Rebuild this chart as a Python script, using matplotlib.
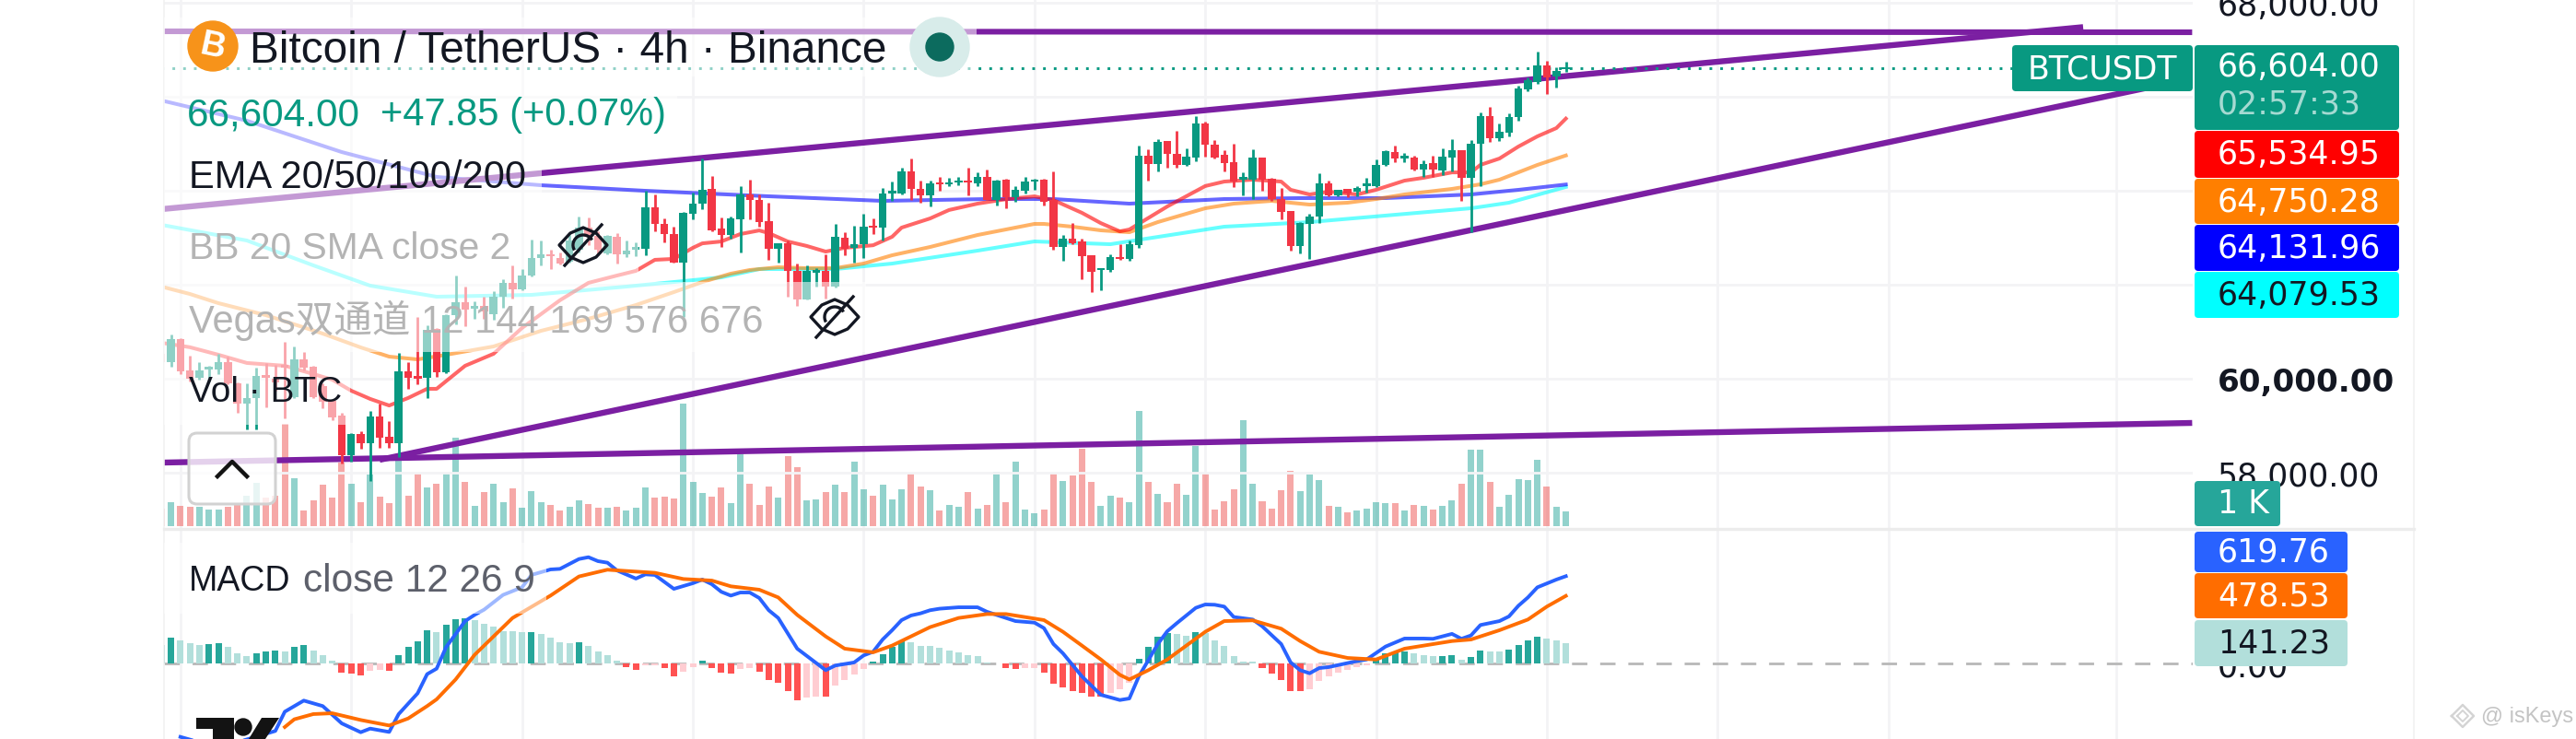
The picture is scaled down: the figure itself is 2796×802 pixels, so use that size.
import numpy as np
from matplotlib import pyplot as plt
from matplotlib.patches import Circle, FancyBboxPatch, Polygon, Rectangle, Arc

# candles, one per 4h bar
opens = [60530, 60350, 60840, 60180, 60020, 60200, 60200, 60350, 59900, 59470,
         59590, 60080, 60000, 60300, 59610, 60410, 60260, 59840, 59530, 59220,
         58370, 58820, 58630, 59200, 58760, 58630, 60160, 60060, 60020, 61060,
         60140, 61350, 61630, 61490, 61550, 61370, 61750, 62040, 61900, 62200,
         62570, 62650, 62570, 62490, 62750, 63210, 63040, 62670, 63020, 62650,
         62750, 62770, 63650, 63290, 63080, 62470, 63510, 63720, 64040, 63200,
         63060, 63390, 63920, 63800, 63350, 62770, 62880, 62290, 61690, 62250,
         62290, 61960, 63000, 62780, 62860, 63250, 63210, 63940, 63940, 64410,
         64040, 63900, 64170, 64140, 64170, 64210, 64160, 64290, 63800, 64230,
         63860, 64000, 64190, 64230, 63800, 62800, 62980, 62920, 62630, 62310,
         62310, 62590, 62550, 62840, 64740, 64570, 65060, 64780, 64550, 64700,
         65430, 64980, 64760, 64610, 64230, 64230, 64700, 64250, 63820, 63570,
         62820, 63290, 63450, 64160, 63900, 64040, 63980, 64100, 64100, 64550,
         64820, 64680, 64700, 64450, 64590, 64430, 64700, 64860, 64270, 65000,
         65590, 65120, 65230, 65570, 66160, 66310, 66670, 66430, 66590]
highs = [60530, 60940, 60860, 60490, 60350, 60280, 60530, 60470, 59920, 59900,
         60240, 60330, 60300, 60780, 60690, 60570, 60280, 59900, 59550, 59270,
         58840, 58880, 59310, 59470, 59100, 60550, 60350, 61310, 61140, 61080,
         61370, 62200, 61960, 61650, 61750, 61860, 62120, 62410, 62330, 62960,
         62940, 62750, 62690, 63060, 63450, 63430, 63140, 63060, 63100, 62940,
         62900, 64000, 63920, 63410, 63230, 63550, 63960, 64680, 64310, 63430,
         63450, 64100, 64230, 63920, 63740, 62880, 62940, 62450, 62410, 62350,
         62650, 63290, 63120, 63250, 63510, 63410, 64060, 64190, 64490, 64680,
         64210, 64210, 64290, 64270, 64290, 64490, 64390, 64450, 64230, 64250,
         64100, 64290, 64250, 64250, 64410, 63060, 63310, 62980, 62630, 62350,
         62650, 62860, 62940, 64960, 64880, 65100, 65060, 65270, 64900, 65590,
         65470, 65080, 64860, 65000, 64390, 64880, 64700, 64270, 64060, 63570,
         63330, 63510, 64370, 64210, 64020, 64040, 64100, 64270, 64660, 64860,
         64960, 64800, 64740, 64640, 64740, 64900, 65100, 64860, 65080, 65670,
         65780, 65430, 65650, 66230, 66410, 66960, 66760, 66630, 66740]
lows = [60350, 60260, 60100, 59940, 59980, 59940, 60100, 59880, 59270, 58920,
        58920, 59390, 59740, 59155, 59590, 60180, 59590, 59370, 59120, 58195,
        58235, 58510, 57820, 58530, 58530, 58330, 59780, 59880, 59590, 60040,
        60120, 61160, 61120, 61270, 61270, 61250, 61510, 61710, 61880, 62180,
        62410, 62330, 62430, 62470, 62690, 62840, 62630, 62650, 62450, 62590,
        62610, 62630, 63140, 62900, 62470, 61310, 63390, 63610, 63140, 62800,
        62980, 62690, 63390, 63230, 62530, 62470, 61750, 61550, 61680, 61960,
        61710, 61950, 62630, 62470, 62570, 63080, 62940, 63780, 63920, 63800,
        63740, 63670, 64000, 64100, 64120, 63900, 64100, 63800, 63690, 63630,
        63760, 63940, 64020, 63690, 62750, 62510, 62860, 62120, 61840, 61880,
        62270, 62530, 62510, 62780, 64210, 64410, 64490, 64490, 64530, 64620,
        64720, 64680, 64410, 64080, 63900, 63820, 64000, 63780, 63390, 62730,
        62670, 62550, 63310, 63880, 63880, 63860, 63880, 63960, 64080, 64530,
        64610, 64610, 64430, 64290, 64290, 64330, 64410, 63780, 63120, 64100,
        65040, 65060, 65160, 65490, 66120, 66270, 66060, 66200, 66530]
closes = [60350, 60840, 60160, 60000, 60180, 60260, 60350, 59900, 59470, 59590,
          60060, 60020, 59920, 60240, 60410, 60240, 59610, 59510, 59175, 58370,
          58820, 58630, 59200, 58745, 58630, 60160, 60020, 60000, 61040, 60140,
          61350, 61630, 61470, 61550, 61430, 61750, 62040, 61900, 62200, 62570,
          62650, 62610, 62450, 62940, 63210, 63020, 62750, 63040, 62650, 62730,
          62800, 63650, 63290, 63080, 62470, 63530, 63720, 64020, 63160, 63060,
          63410, 63920, 63800, 63330, 62770, 62880, 62290, 61690, 62290, 62310,
          61960, 63020, 62770, 62860, 63230, 63210, 63940, 64000, 64410, 64040,
          63900, 64160, 64140, 64170, 64210, 64170, 64290, 63800, 64210, 63860,
          64020, 64190, 64230, 63760, 62800, 62980, 62880, 62610, 62270, 62350,
          62590, 62550, 62860, 64740, 64570, 65040, 64780, 64550, 64720, 65430,
          64980, 64700, 64590, 64190, 64290, 64700, 64230, 63820, 63550, 62820,
          63310, 63450, 64160, 63900, 64020, 63940, 64060, 64160, 64550, 64840,
          64680, 64740, 64450, 64570, 64450, 64720, 64860, 64270, 65000, 65590,
          65120, 65250, 65570, 66180, 66350, 66670, 66410, 66550, 66604]
volumes = [760, 1040, 880, 840, 840, 720, 720, 840, 960, 1320,
           1880, 1240, 1320, 4440, 2080, 680, 1120, 1800, 1240, 2760,
           1840, 1040, 2240, 1280, 1000, 3040, 1320, 2280, 1680, 1840,
           2320, 3840, 1920, 880, 1480, 1840, 1040, 1640, 800, 1520,
           1040, 920, 680, 840, 1120, 960, 800, 800, 840, 680,
           800, 1680, 1240, 1280, 1200, 5320, 1920, 1440, 1280, 1680,
           1000, 3120, 1840, 920, 1720, 1240, 3040, 2560, 1120, 1160,
           1480, 1800, 1480, 2800, 1600, 1320, 1800, 1160, 1600, 2320,
           1720, 1560, 680, 920, 840, 1480, 760, 920, 2360, 1040,
           2800, 720, 560, 720, 2280, 1960, 2200, 3360, 1920, 880,
           1320, 1240, 1040, 5000, 1920, 1400, 1040, 1840, 1360, 3480,
           2320, 720, 1080, 1600, 4600, 1840, 1080, 760, 1560, 2400,
           1520, 2240, 2000, 880, 840, 600, 680, 760, 1040, 1000,
           1000, 680, 920, 880, 720, 880, 1120, 1840, 3320, 3320,
           1920, 840, 1360, 2040, 2000, 2880, 1720, 840, 640]

# moving averages, read at some bars
ema20_bars = [0, 3, 6, 9, 13, 16, 18, 20, 22, 24, 26, 28, 29, 32, 35, 38, 42, 45, 48, 50,
              52, 54, 56, 57, 59, 61, 63, 64, 66, 68, 70, 72, 75, 77, 78, 81, 83, 86, 89,
              92, 94, 97, 99, 101, 102, 106, 110, 112, 115, 118, 119, 121, 123, 126, 128,
              131, 133, 136, 138, 139, 141, 143, 145, 147, 148]
ema20 = [60765, 60670, 60510, 60335, 60275, 60100, 59980, 59745, 59570, 59430, 59590, 59785,
         59785, 60275, 60530, 61080, 61670, 62040, 62195, 62295, 62530, 62550, 62785, 62880,
         62920, 63078, 63155, 63098, 62920, 62825, 62705, 62785, 62840, 63020, 63215, 63410,
         63590, 63725, 63820, 63880, 63800, 63530, 63310, 63135, 63175, 63665, 64100, 64195,
         64235, 64195, 64020, 63920, 63980, 63920, 64020, 64215, 64275, 64390, 64390, 64550,
         64685, 64940, 65157, 65333, 65535]
ema50_bars = [0, 3, 6, 11, 14, 17, 21, 24, 27, 30, 35, 40, 45, 50, 54, 57, 60, 62, 65, 68, 71,
              74, 77, 81, 86, 92, 93, 96, 99, 102, 105, 110, 113, 117, 121, 125, 128, 131,
              136, 139, 141, 145, 148]
ema50 = [61960, 61803, 61608, 61353, 61157, 60960, 60666, 60470, 60411, 60509, 60686, 61019,
         61274, 61568, 61843, 62058, 62235, 62313, 62372, 62352, 62352, 62450, 62627, 62803,
         63058, 63294, 63294, 63235, 63157, 63117, 63333, 63627, 63725, 63784, 63705, 63745,
         63823, 63921, 64039, 64137, 64235, 64549, 64750]
ema100_bars = [0, 9, 19, 29, 40, 51, 64, 76, 87, 94, 102, 112, 120, 129, 138, 143, 148]
ema100 = [65921, 65490, 64823, 64294, 64117, 63999, 63882, 63784, 63823, 63823, 63725, 63823,
          63843, 63843, 63921, 64019, 64132]
ema200_bars = [0, 9, 16, 22, 29, 39, 49, 59, 63, 71, 77, 86, 92, 100, 112, 121, 138, 142, 148]
ema200 = [63274, 62941, 62412, 61980, 61745, 61784, 61960, 62156, 62333, 62333, 62450, 62725,
          62921, 62862, 63235, 63333, 63627, 63745, 64080]

# trend lines drawn on the chart: bar, price
top_flat_bars = [0, 214]
top_flat = [67392, 67372]
wedge_up_bars = [0, 202.2]
wedge_up = [63608, 67476]
wedge_low_bars = [23, 214]
wedge_low = [58274, 66392]
floor_bars = [0, 214]
floor_line = [58215, 59059]

# MACD pane
macd_bars = [2, 4, 8, 12, 13, 15, 17, 19, 21, 22, 24, 25, 27, 28, 29, 30, 32, 33, 34, 36, 38, 39,
             41, 42, 44, 45, 46, 47, 48, 50, 51, 52, 54, 56, 57, 58, 59, 60, 61, 62, 63, 64, 65,
             67, 70, 71, 73, 74, 75, 76, 77, 78, 79, 80, 81, 82, 84, 86, 87, 89, 90, 92, 93, 94,
             95, 97, 99, 101, 102, 103, 105, 106, 107, 109, 110, 111, 112, 113, 115, 116, 118,
             119, 120, 121, 122, 123, 126, 127, 129, 131, 133, 134, 136, 137, 138, 139, 141,
             142, 143, 144, 145, 147, 148]
macd_line = [-522, -560, -560, -480, -343, -264, -303, -426, -489, -463, -487, -360, -212, -76,
             -37, 116, 301, 345, 382, 487, 541, 629, 668, 672, 742, 755, 727, 716, 661, 603, 633,
             629, 530, 570, 596, 563, 509, 482, 504, 504, 465, 378, 323, 105, -48, -15, 7, 57,
             83, 170, 236, 308, 341, 356, 378, 389, 399, 399, 367, 323, 301, 290, 251, 138, 72,
             -92, -223, -260, -249, -92, 138, 229, 286, 395, 419, 417, 404, 330, 312, 264, 138,
             7, -48, -70, -33, -26, 17, 28, 120, 177, 177, 175, 210, 175, 199, 273, 301, 334,
             410, 469, 541, 596, 620]
signal_bars = [13, 14, 16, 18, 21, 24, 26, 28, 29, 31, 33, 35, 37, 41, 44, 47, 49, 52, 55, 58, 60,
               63, 65, 67, 70, 72, 75, 77, 81, 84, 87, 89, 93, 95, 97, 99, 101, 102, 104, 106,
               110, 112, 115, 118, 120, 122, 125, 128, 131, 136, 138, 141, 144, 146, 148]
signal_line = [-452, -397, -360, -354, -402, -441, -391, -303, -255, -114, 61, 192, 323, 482,
               618, 666, 657, 644, 600, 589, 548, 524, 469, 345, 192, 105, 79, 127, 258, 323,
               351, 351, 308, 225, 127, 28, -81, -114, -48, 28, 225, 301, 306, 247, 159, 83,
               39, 28, 105, 159, 170, 236, 312, 404, 480]
histogram = [133, 181, 164, 142, 133, 138, 144, 116, 72, 50,
             72, 83, 90, 83, 116, 131, 90, 57, 17, -63,
             -74, -87, -52, -48, -55, 61, 116, 155, 236, 220,
             275, 312, 319, 306, 279, 260, 229, 228, 223, 223,
             207, 181, 148, 144, 151, 127, 83, 61, 17, -26,
             -48, -15, -14, -33, -92, -59, -26, 17, -33, -68,
             -74, -37, -33, -61, -118, -140, -194, -260, -245, -234,
             -238, -157, -118, -81, -37, 11, 68, 116, 155, 148,
             127, 122, 109, 94, 81, 61, 55, 7, 1, -31,
             -41, -33, -32, -63, -142, -172, -194, -212, -238, -239,
             -212, -183, -140, 33, 116, 192, 216, 207, 199, 225,
             214, 164, 122, 55, 15, 12, -31, -72, -120, -194,
             -199, -183, -124, -94, -68, -48, -26, -15, 28, 72,
             87, 88, 72, 61, 50, 51, 57, 24, 44, 90,
             83, 82, 98, 133, 164, 188, 175, 164, 141]

grid_bars = [2, 20, 38, 56, 74, 92, 110, 128, 146, 164, 182, 206]
price_ticks = [58000, 60000, 62000, 64000, 66000, 68000]
last_price = 66604

plt.rcParams['font.family'] = ['Liberation Sans', 'Noto Sans CJK SC', 'DejaVu Sans']

W, H = 2796, 803
fig = plt.figure(figsize=(W / 100, H / 100), dpi=100, facecolor='white')


def pane(x0, y0, x1, y1, zorder):
    # rectangle given in image pixels
    ax = fig.add_axes([x0 / W, 1 - y1 / H, (x1 - x0) / W, (y1 - y0) / H], zorder=zorder)
    ax.patch.set_visible(False)
    for spine in ax.spines.values():
        spine.set_visible(False)
    ax.set_xlim(0.27, 214.06)
    return ax


x = np.arange(len(closes))
o = np.array(opens)
c = np.array(closes)
up = c >= o
GREEN, RED = '#089981', '#f23645'
GRID = '#f3f3f5'

# volume sits behind the price pane and carries the grid
ax_vol = pane(178, 0, 2380, 575, 1)
ax_vol.set_ylim(-120, 22880)
ax_vol.bar(x, volumes, width=0.68, color=np.where(up, '#26a69a', '#ef5350'), alpha=0.5, zorder=2)
ax_vol.set_xticks(grid_bars)
ax_vol.set_yticks([])
ax_vol.tick_params(length=0, labelbottom=False)
ax_vol.grid(axis='x', color=GRID, lw=2)
ax_vol.set_axisbelow(True)

ax = pane(178, 0, 2380, 575, 2)
ax.set_ylim(56804, 68078)
ax.set_xticks([])
ax.yaxis.tick_right()
ax.set_yticks(price_ticks)
ax.set_yticklabels(['58,000.00', '60,000.00', '62,000.00', '64,000.00', '66,000.00', '68,000.00'],
                   family='DejaVu Sans', fontsize=25, color='#131722')
ax.get_yticklabels()[1].set_fontweight('bold')
ax.get_yticklabels()[1].set_fontsize(24.6)
for lab in ax.get_yticklabels()[2:5]:
    lab.set_visible(False)
ax.tick_params(length=0, pad=19)
ax.grid(axis='y', color=GRID, lw=2)
ax.set_axisbelow(True)

for bars, vals, col in [(ema200_bars, ema200, '#00ffff'), (ema100_bars, ema100, '#0000ff'),
                        (ema50_bars, ema50, '#ff7f00'), (ema20_bars, ema20, '#ff0000')]:
    ax.plot(bars, vals, color=col, alpha=0.6, lw=2.9, zorder=3)

PURPLE = '#7b1fa2'
ax.plot(top_flat_bars, top_flat, color=PURPLE, lw=4.4, zorder=4, solid_capstyle='butt')
ax.plot(wedge_up_bars, wedge_up, color=PURPLE, lw=4.6, zorder=4)
ax.plot(wedge_low_bars, wedge_low, color=PURPLE, lw=4.6, zorder=4, solid_capstyle='butt')
ax.plot(floor_bars, floor_line, color=PURPLE, lw=4.6, zorder=4, solid_capstyle='butt')
ax.plot([0, 214], [last_price, last_price], color=GREEN, lw=2.1, ls=(0, (1, 3)), zorder=4)

cols = np.where(up, GREEN, RED)
ax.vlines(x, lows, highs, colors=cols, lw=2.0, zorder=5)
ax.bar(x, np.maximum(np.abs(c - o), 30), bottom=np.minimum(o, c), width=0.82, color=cols, zorder=6)

ax_macd = pane(178, 575, 2380, 803, 2)
ax_macd.set_ylim(-537, 956)
ax_macd.set_xticks(grid_bars)
ax_macd.tick_params(length=0, labelbottom=False, pad=19)
ax_macd.grid(axis='x', color=GRID, lw=2)
ax_macd.set_axisbelow(True)
ax_macd.yaxis.tick_right()
ax_macd.set_yticks([0])
ax_macd.set_yticklabels(['0.00'], family='DejaVu Sans', fontsize=25, color='#131722')
ax_macd.axhline(0, color='#b8b8b8', lw=2, ls=(0, (6, 5)), zorder=1)

hist_cols = []
for i, v in enumerate(histogram):
    prev = histogram[i - 1] if i else v
    if v >= 0:
        hist_cols.append('#26a69a' if v >= prev else '#b2dfdb')
    else:
        hist_cols.append('#ff5252' if v < prev else '#ffcdd2')
ax_macd.bar(x, histogram, width=0.68, color=hist_cols, zorder=2)
ax_macd.plot(macd_bars, macd_line, color='#2962ff', lw=2.8, zorder=3)
ax_macd.plot(signal_bars, signal_line, color='#ff6d00', lw=2.8, zorder=4)

# everything of the app's interface goes on top, in image pixels
ui = fig.add_axes([0, 0, 1, 1], zorder=5)
ui.patch.set_visible(False)
ui.set_xlim(0, W)
ui.set_ylim(H, 0)
ui.axis('off')

ui.plot([178, 178], [0, H], color='#f1f1f1', lw=1.2, zorder=1)
ui.plot([2620, 2620], [0, H], color='#f1f1f1', lw=1.2, zorder=1)
ui.plot([178, 2620], [575, 575], color='#ececec', lw=2.4, zorder=1)

# legend rows wash out what is behind them
for y0, y1, x1 in [(20, 84, 1060), (84, 153, 735), (153, 230, 588), (230, 307, 693),
                   (307, 383, 940), (383, 462, 380), (590, 667, 593)]:
    ui.add_patch(Rectangle((178, y0), x1 - 178, y1 - y0, color='white', alpha=0.55, lw=0, zorder=2))

# coin icon
ui.add_patch(Circle((231, 51), 27, color='#f7931a', zorder=3))
ui.text(231, 51, 'B', color='white', fontsize=27, fontweight='bold', rotation=-12, ha='center',
        va='center', zorder=4)
ui.add_patch(Circle((1020, 52), 32, color='#d8ecea', zorder=3))
ui.add_patch(Circle((1020, 52), 15, color='#0c6b5e', zorder=4))

DARK = '#131722'
MUTED = '#b4b4b4'
ui.text(271, 56, 'Bitcoin / TetherUS · 4h · Binance', fontsize=34.4, color=DARK, va='center', zorder=5)
ui.text(203, 125, '66,604.00', fontsize=30.5, color=GREEN, va='center', zorder=5)
ui.text(413, 125, '+47.85 (+0.07%)', fontsize=30, color=GREEN, va='center', zorder=5)
ui.text(205, 193, 'EMA 20/50/100/200', fontsize=30, color=DARK, va='center', zorder=5)
ui.text(205, 270, 'BB 20 SMA close 2', fontsize=29.3, color=MUTED, va='center', zorder=5)
ui.text(205, 348, 'Vegas双通道 12 144 169 576 676', fontsize=30, color=MUTED, va='center', zorder=5)
ui.text(205, 426, 'Vol · BTC', fontsize=28, color=DARK, va='center', zorder=5)
ui.text(205, 631, 'MACD', fontsize=27, color=DARK, va='center', zorder=5)
ui.text(329, 631, 'close 12 26 9', fontsize=30.5, color='#5d606b', va='center', zorder=5)


def eye(cx, cy):
    outline = [(-26, 0), (-14, -13), (0, -19), (14, -13), (26, 0), (14, 13), (0, 19), (-14, 13)]
    ui.add_patch(Polygon([(cx + a, cy + b) for a, b in outline], closed=True, fill=False,
                         ec=DARK, lw=2.4, joinstyle='round', zorder=5))
    ui.add_patch(Arc((cx, cy), 22, 22, theta1=150, theta2=330, ec=DARK, lw=2.4, zorder=5))
    ui.plot([cx - 20, cx + 20], [cy + 22, cy - 22], color=DARK, lw=2.4, zorder=5)


eye(633, 267)
eye(906, 345)

# collapse button
ui.add_patch(FancyBboxPatch((205, 471), 94, 77, boxstyle='round,pad=0,rounding_size=9',
                            fc=(1, 1, 1, 0.8), ec='#d2d2d2', lw=2.2, zorder=5))
ui.plot([236, 252, 268], [518, 502, 518], color='#131313', lw=3.2, zorder=6)

# logo at the bottom left
ui.add_patch(Polygon([(213, 780), (254, 780), (254, 803), (231, 803), (231, 792), (213, 792)],
                     color='#131313', lw=0, zorder=5))
ui.add_patch(Circle((264, 790), 9, color='#131313', zorder=5))
ui.add_patch(Polygon([(284, 780), (303, 780), (288, 803), (270, 803)], color='#131313', lw=0, zorder=5))


def tag(x0, y0, x1, y1, bg, label, fg='white', size=25):
    ui.add_patch(FancyBboxPatch((x0, y0), x1 - x0, y1 - y0, boxstyle='round,pad=0,rounding_size=4',
                                fc=bg, ec='none', zorder=7))
    ui.text(2407, (y0 + y1) / 2, label, color=fg, fontsize=size, family='DejaVu Sans',
            va='center', zorder=8)


tag(2382, 50, 2604, 142, '#089981', '', 'white')
ui.text(2407, 73, '66,604.00', color='white', fontsize=25, family='DejaVu Sans', va='center', zorder=8)
ui.text(2407, 114, '02:57:33', color='#a5dad2', fontsize=25, family='DejaVu Sans', va='center', zorder=8)
tag(2382, 143, 2604, 194, '#ff0000', '65,534.95')
tag(2382, 195, 2604, 244, '#ff7f00', '64,750.28')
tag(2382, 245, 2604, 295, '#0000ff', '64,131.96')
tag(2382, 296, 2604, 346, '#00ffff', '64,079.53', fg='#131722')
tag(2382, 523, 2475, 572, '#26a69a', '1 K')
tag(2382, 578, 2548, 622, '#2962ff', '619.76')
tag(2382, 623, 2548, 672, '#ff6d00', '478.53')
tag(2382, 674, 2548, 724, '#b2dfdb', '141.23', fg='#131722')

ui.add_patch(FancyBboxPatch((2184, 50), 196, 50, boxstyle='round,pad=0,rounding_size=4',
                            fc='#089981', ec='none', zorder=7))
ui.text(2282, 75, 'BTCUSDT', color='white', fontsize=25, family='DejaVu Sans', ha='center',
        va='center', zorder=8)

# watermark
ui.plot([2661, 2673, 2685, 2673, 2661], [778, 766, 778, 790, 778], color='#d4d4d4', lw=1.8, zorder=5)
ui.plot([2667, 2673, 2679, 2673, 2667], [778, 772, 778, 784, 778], color='#d4d4d4', lw=1.4, zorder=5)
ui.text(2693, 778, '@ isKeys', color='#c4c4c4', fontsize=17, va='center', zorder=5)

fig.savefig('out.png', dpi=100, facecolor='white')
